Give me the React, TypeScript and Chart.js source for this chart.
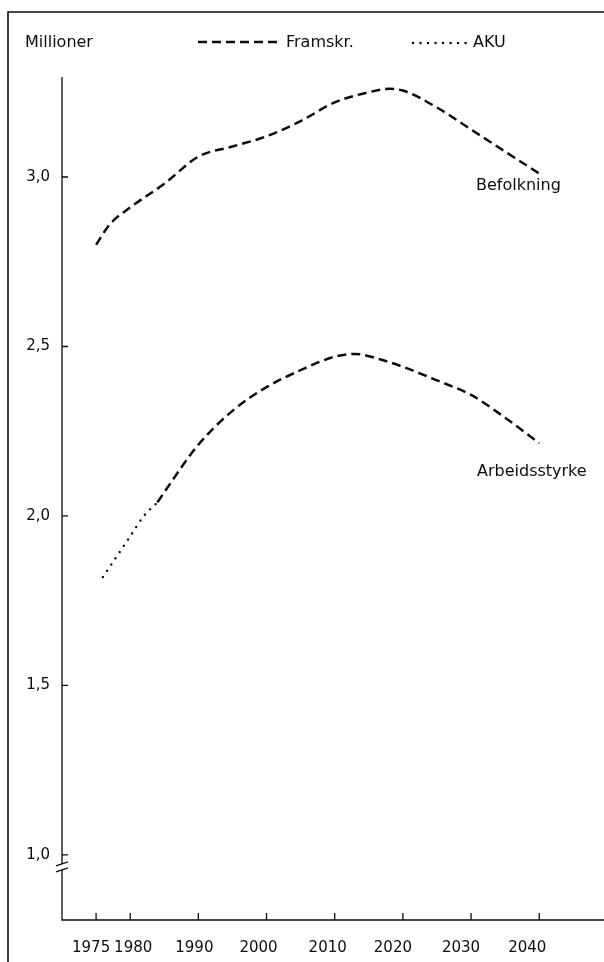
import React, { useEffect, useRef } from "react";
import { Chart, registerables } from "chart.js";

Chart.register(...registerables);

// Befolkning (population), projection
const befYears = [1975, 1977, 1980, 1985, 1990, 1995, 2000, 2005, 2010, 2015, 2018, 2020, 2025, 2030, 2035, 2040];
const befValues = [2.80, 2.86, 2.91, 2.98, 3.06, 3.09, 3.12, 3.165, 3.22, 3.25, 3.26, 3.255, 3.205, 3.14, 3.075, 3.01];
// Arbeidsstyrke (labour force), projection
const arbYears = [1984, 1985, 1990, 1995, 2000, 2005, 2010, 2013, 2017, 2020, 2025, 2030, 2035, 2040];
const arbValues = [2.04, 2.07, 2.21, 2.31, 2.38, 2.43, 2.47, 2.478, 2.46, 2.44, 2.40, 2.357, 2.29, 2.215];
// Arbeidsstyrke, AKU (survey)
const akuYears = [1976, 1978, 1980, 1982, 1984];
const akuValues = [1.82, 1.88, 1.94, 2.0, 2.04];

const xTicks = [1975, 1980, 1990, 2000, 2010, 2020, 2030, 2040];
const xTickLabels = ["1975", "1980", "1990", "2000", "2010", "2020", "2030", "2040"];
const yTicks = [1.0, 1.5, 2.0, 2.5, 3.0];

// styling: small horizontal nudges of the year labels, as in the printed original
const xLabelNudge = [-5, 3, -4, -8, -7, -10, -10, -12];

const INK = "#0d0d0d";
const FONT = "'DejaVu Sans', sans-serif";
const DASH = [9, 5];
const DOT = [0.01, 7.5];

const toPoints = (xs: number[], ys: number[]) => xs.map((x, i) => ({ x, y: ys[i] }));

const frameAxes = {
  id: "frameAxes",
  beforeDatasetsDraw(chart: any) {
    const { ctx, chartArea, scales } = chart;
    const xs = scales.x;
    const ys = scales.y;
    ctx.save();
    ctx.strokeStyle = INK;
    ctx.lineCap = "butt";
    // frame
    ctx.lineWidth = 1.6;
    ctx.beginPath();
    ctx.moveTo(8, chart.height);
    ctx.lineTo(8, 12);
    ctx.lineTo(chart.width, 12);
    ctx.stroke();
    // axes with break
    const ax = chartArea.left;
    const ab = chartArea.bottom;
    const at = chartArea.top;
    const yb = ys.getPixelForValue(1.0) + 9;
    ctx.lineWidth = 1.3;
    ctx.beginPath();
    ctx.moveTo(ax, at);
    ctx.lineTo(ax, yb);
    ctx.moveTo(ax, yb + 6);
    ctx.lineTo(ax, ab);
    ctx.lineTo(chartArea.right, ab);
    ctx.stroke();
    ctx.beginPath();
    ctx.moveTo(ax - 6, yb + 2);
    ctx.lineTo(ax + 6, yb - 2);
    ctx.moveTo(ax - 6, yb + 8);
    ctx.lineTo(ax + 6, yb + 4);
    ctx.stroke();
    // tick marks
    ctx.beginPath();
    yTicks.forEach((v) => {
      const p = ys.getPixelForValue(v);
      ctx.moveTo(ax, p);
      ctx.lineTo(ax + 6, p);
    });
    xTicks.forEach((v) => {
      const p = xs.getPixelForValue(v);
      ctx.moveTo(p, ab);
      ctx.lineTo(p, ab - 7);
    });
    ctx.stroke();
    // year labels
    ctx.fillStyle = INK;
    ctx.font = `15px ${FONT}`;
    ctx.textAlign = "center";
    ctx.textBaseline = "middle";
    xTicks.forEach((v, i) => {
      ctx.fillText(xTickLabels[i], xs.getPixelForValue(v) + xLabelNudge[i], ab + 28);
    });
    // legend samples
    ctx.lineWidth = 2.5;
    ctx.setLineDash(DASH);
    ctx.beginPath();
    ctx.moveTo(198, 42);
    ctx.lineTo(278, 42);
    ctx.stroke();
    ctx.lineCap = "round";
    ctx.setLineDash(DOT);
    ctx.beginPath();
    ctx.moveTo(413, 43);
    ctx.lineTo(468, 43);
    ctx.stroke();
    ctx.restore();
  },
};

const labelStyle = (left: number, top: number): React.CSSProperties => ({
  position: "absolute",
  left,
  top,
  font: `16px ${FONT}`,
  lineHeight: "20px",
  color: INK,
  whiteSpace: "nowrap",
});

export default function App() {
  const ref = useRef<HTMLCanvasElement | null>(null);

  useEffect(() => {
    if (!ref.current) return;
    const chart = new Chart(ref.current, {
      type: "line",
      data: {
        datasets: [
          {
            label: "Befolkning",
            data: toPoints(befYears, befValues),
            borderColor: INK,
            borderWidth: 2.5,
            borderDash: DASH,
            pointRadius: 0,
            cubicInterpolationMode: "monotone",
            fill: false,
          },
          {
            label: "Arbeidsstyrke",
            data: toPoints(arbYears, arbValues),
            borderColor: INK,
            borderWidth: 2.5,
            borderDash: DASH,
            pointRadius: 0,
            cubicInterpolationMode: "monotone",
            fill: false,
          },
          {
            label: "AKU",
            data: toPoints(akuYears, akuValues),
            borderColor: INK,
            borderWidth: 2.5,
            borderDash: DOT,
            borderCapStyle: "round",
            pointRadius: 0,
            cubicInterpolationMode: "monotone",
            fill: false,
          },
        ],
      },
      options: {
        animation: false,
        responsive: false,
        maintainAspectRatio: false,
        layout: { padding: { top: 77, left: 0, right: 0, bottom: 0 } },
        plugins: { legend: { display: false }, tooltip: { enabled: false } },
        scales: {
          x: {
            type: "linear",
            min: 1970,
            max: 2049.5,
            grid: { display: false, drawTicks: false },
            border: { display: false },
            afterBuildTicks: (s: any) => {
              s.ticks = xTicks.map((v) => ({ value: v }));
            },
            afterFit: (s: any) => {
              s.height = 42;
            },
            ticks: { display: false },
          },
          y: {
            type: "linear",
            min: 0.808,
            max: 3.295,
            grid: { display: false, drawTicks: false },
            border: { display: false },
            afterBuildTicks: (s: any) => {
              s.ticks = yTicks.map((v) => ({ value: v }));
            },
            afterFit: (s: any) => {
              s.width = 62;
            },
            ticks: {
              color: INK,
              font: { family: FONT, size: 15 },
              padding: 12,
              callback: (v: any) => Number(v).toFixed(1).replace(".", ","),
            },
          },
        },
      },
      plugins: [frameAxes],
    } as any);
    return () => chart.destroy();
  }, []);

  return (
    <div style={{ position: "absolute", left: 0, top: 0, width: 604, height: 962, background: "#fff", overflow: "hidden" }}>
      <canvas ref={ref} width={604} height={962} style={{ width: 604, height: 962, display: "block" }} />
      <div style={labelStyle(25, 32)}>Millioner</div>
      <div style={labelStyle(286, 32)}>Framskr.</div>
      <div style={labelStyle(473, 32)}>AKU</div>
      <div style={labelStyle(476, 175)}>Befolkning</div>
      <div style={labelStyle(477, 461)}>Arbeidsstyrke</div>
    </div>
  );
}
